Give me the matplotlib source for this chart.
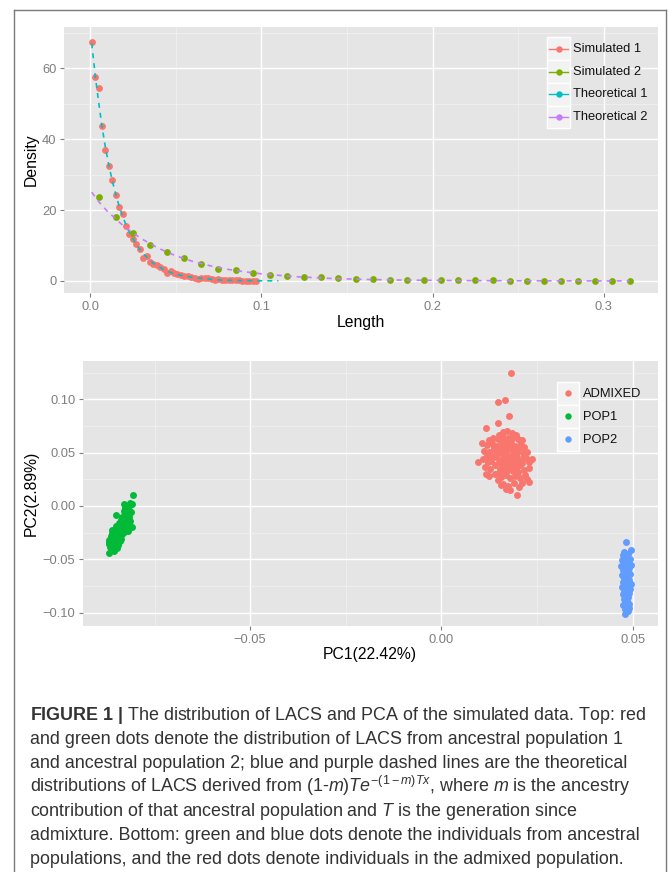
import matplotlib
matplotlib.use('Agg')
import matplotlib.pyplot as plt
from matplotlib.lines import Line2D
from matplotlib.patches import Rectangle

plt.rcParams['font.family'] = ['Liberation Sans', 'DejaVu Sans']
plt.rcParams['mathtext.fontset'] = 'custom'
plt.rcParams['mathtext.rm'] = 'Liberation Sans'
plt.rcParams['mathtext.it'] = 'Liberation Sans:italic'
plt.rcParams['mathtext.bf'] = 'Liberation Sans:bold'

# ---- top panel: LACS density ----
sim1_x = [0.001, 0.003, 0.005, 0.007, 0.009, 0.011, 0.013, 0.015, 0.017, 0.019,
          0.021, 0.023, 0.025, 0.027, 0.029, 0.031, 0.033, 0.035, 0.037, 0.039,
          0.041, 0.043, 0.045, 0.047, 0.049, 0.051, 0.053, 0.055, 0.057, 0.059,
          0.061, 0.063, 0.065, 0.067, 0.069, 0.071, 0.073, 0.075, 0.077, 0.079,
          0.081, 0.083, 0.085, 0.087, 0.089, 0.091, 0.093, 0.095, 0.097]
sim1_y = [67.3, 57.5, 54.4, 43.8, 37.0, 32.5, 28.4, 24.3, 20.9, 19.0,
          15.6, 13.3, 11.8, 10.4, 8.9, 6.6, 6.9, 5.4, 4.8, 4.5,
          4.0, 3.5, 2.2, 2.8, 2.1, 2.0, 1.7, 1.5, 1.3, 1.0,
          0.7, 0.6, 0.8, 0.9, 0.7, 0.5, 0.4, 0.5, 0.3, 0.3,
          0.3, 0.2, 0.2, 0.2, 0.1, 0.1, 0.1, 0.1, 0.1]

sim2_x = [0.005, 0.015, 0.025, 0.035, 0.045, 0.055, 0.065, 0.075, 0.085, 0.095,
          0.105, 0.115, 0.125, 0.135, 0.145, 0.155, 0.165, 0.175, 0.185, 0.195,
          0.205, 0.215, 0.225, 0.235, 0.245, 0.255, 0.265, 0.275, 0.285, 0.295,
          0.305, 0.315]
sim2_y = [23.8, 17.9, 13.6, 10.2, 8.3, 6.6, 4.7, 3.5, 3.2, 2.3,
          1.7, 1.4, 1.1, 1.0, 0.7, 0.6, 0.6, 0.4, 0.35, 0.25,
          0.25, 0.2, 0.2, 0.15, 0.1, 0.1, 0.1, 0.08, 0.06, 0.05,
          0.04, 0.03]

theo1_x = [0.001, 0.003, 0.005, 0.007, 0.009, 0.011, 0.013, 0.015, 0.017, 0.019,
           0.021, 0.023, 0.025, 0.027, 0.029, 0.031, 0.033, 0.035, 0.037, 0.039,
           0.041, 0.043, 0.045, 0.047, 0.049, 0.051, 0.055, 0.060, 0.065, 0.070,
           0.075, 0.080, 0.090, 0.100, 0.110]
theo1_y = [67.0, 58.0, 50.5, 43.5, 37.6, 32.6, 28.2, 24.4, 21.1, 18.3,
           15.8, 13.7, 11.9, 10.3, 8.9, 7.7, 6.7, 5.8, 5.0, 4.3,
           3.8, 3.2, 2.8, 2.4, 2.1, 1.8, 1.4, 1.0, 0.7, 0.5,
           0.3, 0.2, 0.1, 0.05, 0.03]

theo2_x = [0.001, 0.005, 0.010, 0.020, 0.030, 0.040, 0.050, 0.060, 0.070, 0.080,
           0.090, 0.100, 0.120, 0.140, 0.160, 0.180, 0.200, 0.220, 0.240, 0.260,
           0.280, 0.300, 0.315]
theo2_y = [25.0, 22.4, 19.7, 15.3, 11.9, 9.2, 7.1, 5.5, 4.3, 3.3,
           2.6, 2.0, 1.2, 0.72, 0.43, 0.26, 0.16, 0.09, 0.06, 0.03,
           0.02, 0.01, 0.01]

top_labels = ['Simulated 1', 'Simulated 2', 'Theoretical 1', 'Theoretical 2']
top_colors = ['#F8766D', '#7CAE00', '#00BFC4', '#C77CFF']

# ---- bottom panel: PCA ----
admixed = [
    (0.0182, 0.1250), (0.0147, 0.0976), (0.0166, 0.0995), (0.0177, 0.0845),
    (0.0149, 0.0776), (0.0117, 0.0729), (0.0105, 0.0590), (0.0096, 0.0410),
    (0.0116, 0.0304), (0.0180, 0.0147), (0.0198, 0.0100), (0.0237, 0.0438),
    (0.0230, 0.0225), (0.0209, 0.0610),
    (0.0160, 0.0690), (0.0172, 0.0700), (0.0185, 0.0680), (0.0150, 0.0670), (0.0195, 0.0665),
    (0.0135, 0.0640), (0.0148, 0.0625), (0.0162, 0.0650), (0.0175, 0.0635), (0.0188, 0.0645),
    (0.0200, 0.0630), (0.0210, 0.0615), (0.0125, 0.0620),
    (0.0120, 0.0575), (0.0132, 0.0590), (0.0145, 0.0560), (0.0158, 0.0595), (0.0168, 0.0570),
    (0.0180, 0.0585), (0.0192, 0.0560), (0.0205, 0.0575), (0.0215, 0.0555), (0.0138, 0.0550),
    (0.0175, 0.0550),
    (0.0112, 0.0520), (0.0125, 0.0505), (0.0137, 0.0530), (0.0150, 0.0495), (0.0160, 0.0525),
    (0.0170, 0.0505), (0.0182, 0.0530), (0.0193, 0.0500), (0.0203, 0.0520), (0.0215, 0.0495),
    (0.0225, 0.0510), (0.0145, 0.0515), (0.0188, 0.0485), (0.0165, 0.0480),
    (0.0108, 0.0440), (0.0120, 0.0465), (0.0130, 0.0425), (0.0142, 0.0455), (0.0155, 0.0435),
    (0.0163, 0.0465), (0.0172, 0.0420), (0.0178, 0.0450), (0.0190, 0.0430), (0.0198, 0.0460),
    (0.0208, 0.0425), (0.0220, 0.0450), (0.0230, 0.0415), (0.0150, 0.0410), (0.0185, 0.0405),
    (0.0215, 0.0470), (0.0135, 0.0470),
    (0.0115, 0.0365), (0.0128, 0.0345), (0.0140, 0.0380), (0.0152, 0.0350), (0.0165, 0.0375),
    (0.0175, 0.0335), (0.0185, 0.0370), (0.0195, 0.0345), (0.0205, 0.0380), (0.0215, 0.0340),
    (0.0228, 0.0360), (0.0160, 0.0320), (0.0200, 0.0320),
    (0.0125, 0.0285), (0.0140, 0.0300), (0.0155, 0.0270), (0.0168, 0.0295), (0.0180, 0.0260),
    (0.0192, 0.0285), (0.0205, 0.0265), (0.0218, 0.0290), (0.0225, 0.0250), (0.0148, 0.0245),
    (0.0162, 0.0210), (0.0175, 0.0190), (0.0190, 0.0215), (0.0202, 0.0180), (0.0170, 0.0160),
    (0.0212, 0.0220), (0.0155, 0.0195),
    (0.0170, 0.0615), (0.0183, 0.0605), (0.0157, 0.0545), (0.0197, 0.0540), (0.0167, 0.0445),
    (0.0182, 0.0465), (0.0158, 0.0390), (0.0178, 0.0385), (0.0170, 0.0355), (0.0187, 0.0330),
    (0.0150, 0.0310), (0.0196, 0.0400), (0.0210, 0.0400), (0.0122, 0.0410), (0.0118, 0.0495),
]
pop1 = [
    (-0.0869, -0.0437), (-0.0853, -0.0375), (-0.0862, -0.0410), (-0.0855, -0.0400),
    (-0.0848, -0.0395), (-0.0866, -0.0385), (-0.0858, -0.0365), (-0.0845, -0.0370),
    (-0.0868, -0.0360), (-0.0852, -0.0350), (-0.0863, -0.0340), (-0.0845, -0.0345),
    (-0.0857, -0.0330), (-0.0840, -0.0325), (-0.0868, -0.0320), (-0.0850, -0.0315),
    (-0.0860, -0.0300), (-0.0838, -0.0305), (-0.0848, -0.0290), (-0.0865, -0.0285),
    (-0.0842, -0.0280), (-0.0855, -0.0270), (-0.0835, -0.0265), (-0.0860, -0.0255),
    (-0.0845, -0.0250), (-0.0830, -0.0240), (-0.0852, -0.0235), (-0.0838, -0.0225),
    (-0.0819, -0.0235), (-0.0848, -0.0215), (-0.0832, -0.0210), (-0.0842, -0.0195),
    (-0.0825, -0.0190), (-0.0850, -0.0185), (-0.0835, -0.0175), (-0.0820, -0.0170),
    (-0.0843, -0.0160), (-0.0828, -0.0150), (-0.0815, -0.0145), (-0.0838, -0.0135),
    (-0.0822, -0.0125), (-0.0833, -0.0110), (-0.0817, -0.0105), (-0.0851, -0.0080),
    (-0.0828, -0.0090), (-0.0822, -0.0070), (-0.0812, -0.0060), (-0.0830, -0.0050),
    (-0.0818, -0.0035), (-0.0826, -0.0020), (-0.0831, 0.0020), (-0.0814, 0.0030),
    (-0.0820, 0.0000), (-0.0810, 0.0015), (-0.0805, 0.0100), (-0.0835, -0.0100),
    (-0.0860, -0.0225), (-0.0870, -0.0340), (-0.0810, -0.0200), (-0.0857, -0.0420),
]
pop2 = [
    (0.0482, -0.0334), (0.0496, -0.0416), (0.0478, -0.0435), (0.0479, -0.1016),
    (0.0490, -0.0953), (0.0475, -0.0460), (0.0488, -0.0450), (0.0483, -0.0480),
    (0.0492, -0.0495), (0.0473, -0.0505), (0.0486, -0.0520), (0.0479, -0.0540),
    (0.0495, -0.0550), (0.0470, -0.0560), (0.0484, -0.0570), (0.0490, -0.0585),
    (0.0476, -0.0600), (0.0487, -0.0610), (0.0481, -0.0625), (0.0494, -0.0640),
    (0.0472, -0.0650), (0.0485, -0.0660), (0.0478, -0.0675), (0.0490, -0.0690),
    (0.0483, -0.0700), (0.0474, -0.0715), (0.0488, -0.0725), (0.0496, -0.0735),
    (0.0480, -0.0745), (0.0471, -0.0755), (0.0486, -0.0765), (0.0492, -0.0780),
    (0.0477, -0.0790), (0.0484, -0.0800), (0.0490, -0.0815), (0.0474, -0.0825),
    (0.0482, -0.0840), (0.0489, -0.0855), (0.0478, -0.0870), (0.0486, -0.0885),
    (0.0481, -0.0900), (0.0491, -0.0915), (0.0476, -0.0925), (0.0485, -0.0940),
    (0.0480, -0.0965), (0.0488, -0.0980), (0.0479, -0.0590), (0.0489, -0.0530),
    (0.0481, -0.0710), (0.0486, -0.0850), (0.0478, -0.0770),
]
pca_groups = ['ADMIXED', 'POP1', 'POP2']
pca_colors = ['#F8766D', '#00BA38', '#619CFF']

caption_lines = [
    r'$\bf{FIGURE\ 1\ |}$ The distribution of LACS and PCA of the simulated data. Top: red',
    'and green dots denote the distribution of LACS from ancestral population 1',
    'and ancestral population 2; blue and purple dashed lines are the theoretical',
    r'distributions of LACS derived from $(1$-$m)Te^{-(1-m)Tx}$, where $m$ is the ancestry',
    r'contribution of that ancestral population and $T$ is the generation since',
    'admixture. Bottom: green and blue dots denote the individuals from ancestral',
    'populations, and the red dots denote individuals in the admixed population.',
]

W, H = 669, 872
fig = plt.figure(figsize=(W / 100, H / 100), dpi=100)
fig.patch.set_facecolor('white')


def px(x, y):
    return x / W, 1 - y / H


def add_panel(left, top, right, bottom):
    ax = fig.add_axes([left / W, 1 - bottom / H, (right - left) / W, (bottom - top) / H])
    ax.set_facecolor('#E5E5E5')
    for s in ax.spines.values():
        s.set_visible(False)
    ax.set_axisbelow(True)
    ax.grid(True, which='major', color='white', linewidth=1.0)
    ax.grid(True, which='minor', color='#F2F2F2', linewidth=0.5)
    ax.tick_params(which='major', direction='out', length=3, width=0.8, color='#7F7F7F',
                   labelcolor='#7F7F7F', labelsize=9.3, pad=2.5)
    ax.tick_params(which='minor', length=0)
    return ax


# outer frame
frame_col = '#7A7A7A'
fig.add_artist(Line2D([14 / W, 14 / W], [0, 1 - 10 / H], color=frame_col, lw=1.0))
fig.add_artist(Line2D([14 / W, 666 / W], [1 - 10 / H, 1 - 10 / H], color=frame_col, lw=1.0))
fig.add_artist(Line2D([666 / W, 666 / W], [0, 1 - 10 / H], color=frame_col, lw=1.0))

# top panel
ax1 = add_panel(64, 27, 657.5, 293)
ax1.plot(sim1_x, sim1_y, 'o', ms=4.9, mew=0, color=top_colors[0], zorder=3)
ax1.plot(sim2_x, sim2_y, 'o', ms=4.9, mew=0, color=top_colors[1], zorder=3)
ax1.plot(theo1_x, theo1_y, color=top_colors[2], lw=1.2, dashes=(3, 3), zorder=4)
ax1.plot(theo2_x, theo2_y, color=top_colors[3], lw=1.2, dashes=(3, 3), zorder=4)
ax1.set_xlim(-0.0152, 0.3313)
ax1.set_ylim(-3.4, 71.6)
ax1.set_xticks([0.0, 0.1, 0.2, 0.3])
ax1.set_xticklabels(['0.0', '0.1', '0.2', '0.3'])
ax1.set_xticks([0.05, 0.15, 0.25], minor=True)
ax1.set_yticks([0, 20, 40, 60])
ax1.set_yticks([10, 30, 50, 70], minor=True)

# bottom panel
ax2 = add_panel(83, 360.7, 657.5, 626)
for pts, col in zip([admixed, pop1, pop2], pca_colors):
    ax2.scatter([p[0] for p in pts], [p[1] for p in pts], s=25, color=col,
                linewidths=0, zorder=3)
ax2.set_xlim(-0.0937, 0.0565)
ax2.set_ylim(-0.1125, 0.1362)
ax2.set_xticks([-0.05, 0.0, 0.05])
ax2.set_xticklabels(['\u22120.05', '0.00', '0.05'])
ax2.set_xticks([-0.075, -0.025, 0.025], minor=True)
ax2.set_yticks([-0.10, -0.05, 0.0, 0.05, 0.10])
ax2.set_yticklabels(['\u22120.10', '\u22120.05', '0.00', '0.05', '0.10'])
ax2.set_yticks([-0.075, -0.025, 0.025, 0.075, 0.125], minor=True)

# axis titles
fig.text(*px(361, 322), 'Length', ha='center', va='center', fontsize=11.3)
fig.text(*px(31, 160), 'Density', ha='center', va='center', rotation=90, fontsize=11.3)
fig.text(*px(370, 655), 'PC1(22.42%)', ha='center', va='center', fontsize=11.3)
fig.text(*px(31, 493), 'PC2(2.89%)', ha='center', va='center', rotation=90, fontsize=11.3)

# top legend
row_h = 22.75
for i, (lab, col) in enumerate(zip(top_labels, top_colors)):
    y0 = 37.5 + i * row_h
    x0, y1 = px(547, y0 + row_h)
    fig.add_artist(Rectangle((x0, y1), 23 / W, row_h / H, transform=fig.transFigure,
                             facecolor='#F2F2F2', edgecolor='white', lw=1.0))
    yc = y0 + row_h / 2
    fig.add_artist(Line2D([549 / W, 568 / W], [1 - yc / H] * 2, color=col, lw=1.0))
    fig.add_artist(Line2D([558.5 / W], [1 - yc / H], marker='o', ms=4.6, mew=0, color=col))
    fig.text(*px(573, yc), lab, ha='left', va='center', fontsize=9.3, color='#111111')

# bottom legend
row_h = 23
for i, (lab, col) in enumerate(zip(pca_groups, pca_colors)):
    y0 = 382 + i * row_h
    x0, y1 = px(557, y0 + row_h)
    fig.add_artist(Rectangle((x0, y1), 22 / W, row_h / H, transform=fig.transFigure,
                             facecolor='#F2F2F2', edgecolor='white', lw=1.0))
    yc = y0 + row_h / 2
    fig.add_artist(Line2D([568 / W], [1 - yc / H], marker='o', ms=4.6, mew=0, color=col))
    fig.text(*px(583, yc), lab, ha='left', va='center', fontsize=9.3, color='#111111')

# caption
for i, line in enumerate(caption_lines):
    fig.text(*px(30, 719.5 + i * 24.1), line, ha='left', va='baseline',
             fontsize=12.85, color='#333333')

fig.savefig('out.png', dpi=100)
